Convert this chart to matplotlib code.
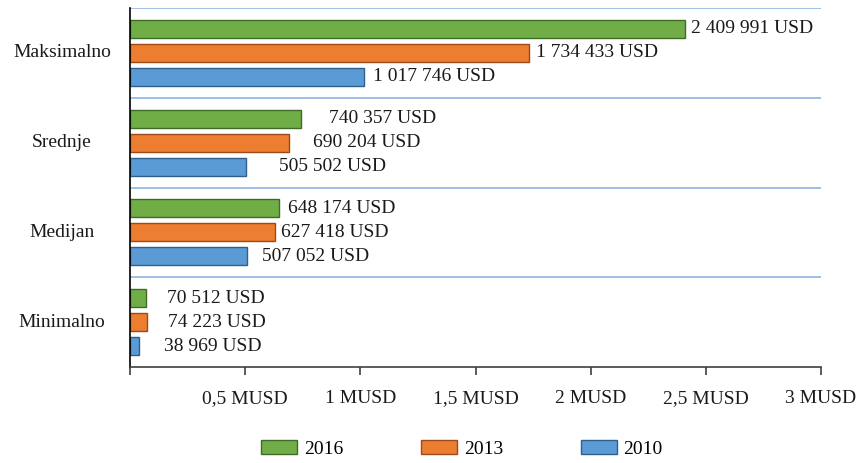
import matplotlib
matplotlib.use("Agg")
import matplotlib.pyplot as plt
import matplotlib.transforms as mtransforms
import numpy as np

plt.rcParams['font.family'] = ['Liberation Serif', 'DejaVu Serif']

categories = ['Maksimalno', 'Srednje', 'Medijan', 'Minimalno']
years = ['2016', '2013', '2010']
v2016 = [2409991, 740357, 648174, 70512]
v2013 = [1734433, 690204, 627418, 74223]
v2010 = [1017746, 505502, 507052, 38969]
tick_vals = [0, 0.5, 1, 1.5, 2, 2.5, 3]
tick_labels = ['', '0,5 MUSD', '1 MUSD', '1,5 MUSD', '2 MUSD', '2,5 MUSD', '3 MUSD']

colors = ['#70AD47', '#ED7D31', '#5B9BD5']
edges = ['#3E6B26', '#9C4A17', '#2F5F8A']
# label gaps (pixels) after bar end, as placed in the original
label_gap = [[6, 28, 9, 21], [7, 24, 6, 21], [9, 33, 15, 25]]

def fmt(v):
    return '{:,}'.format(v).replace(',', ' ') + ' USD'

fig = plt.figure(figsize=(8.57, 4.63), dpi=100)
ax = fig.add_axes([130/857, 1-367/463, 691/857, 359/463])

y = np.arange(len(categories))
bh = 0.2
step = 0.267
series = [v2016, v2013, v2010]
handles = []
for i, vals in enumerate(series):
    pos = y + (i - 1) * step
    mus = np.array(vals) / 1e6
    b = ax.barh(pos, mus, height=bh, color=colors[i], edgecolor=edges[i],
                linewidth=1.0, label=years[i])
    handles.append(b)
    for j, v in enumerate(vals):
        ax.annotate(fmt(v), (mus[j], pos[j]), xytext=(label_gap[i][j], 0),
                    textcoords='offset pixels', va='center', ha='left',
                    fontsize=14, color='#1a1a1a')

ax.set_xlim(0, 3)
ax.set_ylim(3.5, -0.5)
for s in [-0.5, 0.5, 1.5, 2.5]:
    ax.axhline(s, color='#8DB4E2', linewidth=1.2, zorder=0)

ax.set_xticks(tick_vals)
ax.set_xticklabels(tick_labels, fontsize=14, color='#1a1a1a')
ax.tick_params(axis='x', direction='out', length=6, width=1.2, color='#404040', pad=10.5)
ax.set_yticks([])
trans = mtransforms.blended_transform_factory(fig.transFigure, ax.transData)
for j, c in enumerate(categories):
    ax.text(62/857, y[j], c, transform=trans, ha='center', va='center',
            fontsize=14, color='#1a1a1a')

for sp in ['top', 'right']:
    ax.spines[sp].set_visible(False)
ax.spines['left'].set_color('#000000')
ax.spines['left'].set_linewidth(1.2)
ax.spines['bottom'].set_color('#404040')
ax.spines['bottom'].set_linewidth(1.2)

fig.legend(handles=handles, labels=years, loc='center', bbox_to_anchor=(462/857, 1-449/463),
           ncol=3, frameon=False, fontsize=14, handlelength=1.85, handleheight=0.72,
           handletextpad=0.35, columnspacing=4.0)

fig.savefig('out.png', dpi=100)
